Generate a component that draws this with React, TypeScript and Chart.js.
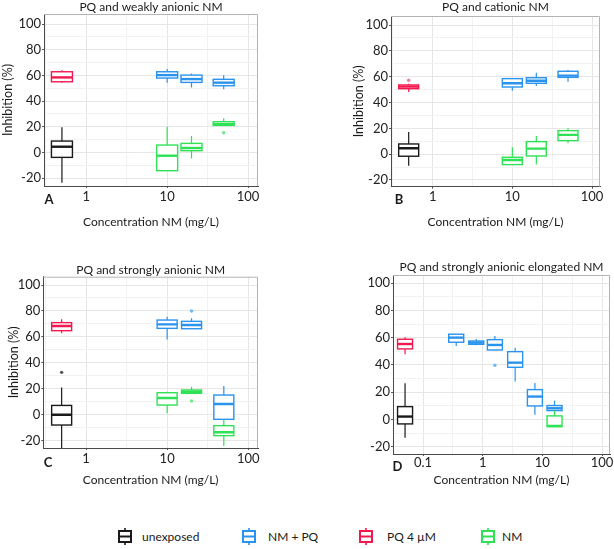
import React, { useEffect, useRef } from "react";
import { Chart, registerables } from "chart.js";

Chart.register(...registerables);

const FONT = "Lato, 'Noto Sans', sans-serif";

// ---------- data ----------
const SERIES = ["unexposed", "NM + PQ", "PQ 4 µM", "NM"];
const COLORS = ["#1a1a1a", "#2a93ee", "#f2194f", "#2fe255"];
const OUTLIER_COLORS = ["#555555", "#6fb8f2", "#f57a95", "#6fea88"];

const Y_MAJOR = [-20, 0, 20, 40, 60, 80, 100];
const Y_MINOR = [-10, 10, 30, 50, 70, 90];
const X_MAJOR_ABC = [1, 10, 100];
const X_MINOR_ABC = [0.316, 3.16, 31.6];
const X_MAJOR_D = [0.1, 1, 10, 100];
const X_MINOR_D = [0.0316, 0.316, 3.16, 31.6];

const X_TITLE = "Concentration NM (mg/L)";
const Y_TITLE = "Inhibition (%)";

// box stats: [min, q1, median, q3, max]
// Panel A
const A_TITLE = "PQ and weakly anionic NM";
const A_CTRL_X = [0.5];
const A_UNEXPOSED = [[-23.7, -3.9, 4.4, 8.8, 19.5]];
const A_PQ = [[54.3, 55.0, 58.4, 62.8, 63.9]];
const A_NMPQ_CONC = [10, 20, 50];
const A_NMPQ = [
  [54.3, 57.9, 60.2, 62.8, 64.9],
  [50.6, 54.5, 57.1, 60.2, 61.5],
  [49.1, 51.9, 54.3, 56.9, 60.0],
];
const A_NM_CONC = [10, 20, 50];
const A_NM = [
  [-14.5, -14.3, -2.6, 5.7, 20.0],
  [-4.7, 1.3, 3.4, 7.0, 12.7],
  [21.0, 21.0, 22.0, 23.9, 26.5],
];
const A_NM_OUT = [{ x: 50, y: 15.3 }];

// Panel B
const B_TITLE = "PQ and cationic NM";
const B_CTRL_X = [0.5];
const B_UNEXPOSED = [[-8.9, -1.6, 4.6, 7.9, 17.2]];
const B_PQ = [[48.2, 50.7, 52.3, 53.6, 54.5]];
const B_PQ_OUT = [{ x: 0.5, y: 57.2 }];
const B_NMPQ_CONC = [10, 20, 50];
const B_NMPQ = [
  [49.2, 52.0, 54.9, 58.5, 58.5],
  [52.8, 54.9, 56.9, 59.2, 63.1],
  [56.1, 59.5, 60.8, 64.2, 65.2],
];
const B_NM_CONC = [10, 20, 50];
const B_NM = [
  [-8.1, -8.1, -4.5, -2.4, 5.3],
  [-8.1, -1.4, 4.3, 9.7, 14.1],
  [8.4, 10.5, 14.9, 18.2, 20.0],
];

// Panel C
const C_TITLE = "PQ and strongly anionic NM";
const C_CTRL_X = [0.5];
const C_UNEXPOSED = [[-27.0, -7.9, 0.0, 7.2, 21.1]];
const C_UNEXPOSED_OUT = [{ x: 0.5, y: 32.7 }];
const C_PQ = [[62.8, 64.8, 68.4, 71.0, 73.6]];
const C_NMPQ_CONC = [10, 20, 50];
const C_NMPQ = [
  [58.1, 66.6, 69.7, 73.0, 75.6],
  [66.3, 66.3, 69.2, 72.0, 74.3],
  [-3.5, -3.5, 8.3, 15.2, 22.2],
];
const C_NMPQ_OUT = [{ x: 20, y: 80.0 }];
const C_NM_CONC = [10, 20, 50];
const C_NM = [
  [1.1, 7.5, 12.9, 17.0, 17.8],
  [16.5, 16.5, 17.8, 19.1, 21.6],
  [-24.0, -16.1, -13.5, -8.4, -3.5],
];
const C_NM_OUT = [{ x: 20, y: 10.6 }];

// Panel D
const D_TITLE = "PQ and strongly anionic elongated NM";
const D_CTRL_X = [0.05];
const D_UNEXPOSED = [[-13.4, -3.3, 2.1, 9.4, 26.6]];
const D_PQ = [[47.9, 51.8, 55.4, 58.9, 60.3]];
const D_NMPQ_CONC = [0.36, 0.78, 1.6, 3.5, 7.5, 16];
const D_NMPQ = [
  [54.0, 56.7, 60.1, 62.6, 62.6],
  [54.5, 55.2, 56.4, 57.6, 59.0],
  [51.0, 51.0, 54.7, 58.6, 61.3],
  [27.8, 38.3, 41.7, 49.8, 52.7],
  [3.5, 9.9, 16.8, 21.9, 26.8],
  [6.5, 6.5, 8.2, 10.2, 13.8],
];
const D_NMPQ_OUT = [{ x: 1.6, y: 39.8 }];
const D_NM_CONC = [16];
const D_NM = [[-5.3, -5.3, -4.8, 2.6, 6.5]];

// ---------- build ----------
type Pt = { x: number; y: number };
type PanelData = {
  ctrlX: number[];
  unexposed: number[][];
  unexposedOut?: Pt[];
  nmpqConc: number[];
  nmpq: number[][];
  nmpqOut?: Pt[];
  pq: number[][];
  pqOut?: Pt[];
  nmConc: number[];
  nm: number[][];
  nmOut?: Pt[];
};

function buildDatasets(p: PanelData) {
  const groups = [
    { xs: p.ctrlX, stats: p.unexposed, out: p.unexposedOut || [] },
    { xs: p.nmpqConc, stats: p.nmpq, out: p.nmpqOut || [] },
    { xs: p.ctrlX, stats: p.pq, out: p.pqOut || [] },
    { xs: p.nmConc, stats: p.nm, out: p.nmOut || [] },
  ];
  return groups.map((g, i) => ({
    label: SERIES[i],
    data: g.out,
    boxes: g.xs.map((x, j) => ({ x, s: g.stats[j] })),
    borderColor: COLORS[i],
    backgroundColor: OUTLIER_COLORS[i],
    pointRadius: 1.7,
    pointBorderWidth: 0,
    pointHoverRadius: 0,
  }));
}

const boxPlugin = {
  id: "boxplots",
  beforeDatasetsDraw(chart: any, _a: any, opts: any) {
    const { ctx, chartArea: ca, scales } = chart;
    const xs = scales.x;
    const ys = scales.y;
    const half = (opts.boxWidth || 20) / 2;
    ctx.save();
    ctx.beginPath();
    ctx.rect(ca.left, ca.top, ca.right - ca.left, ca.bottom - ca.top);
    ctx.clip();
    chart.data.datasets.forEach((ds: any) => {
      (ds.boxes || []).forEach((b: any) => {
        const cx = xs.getPixelForValue(b.x);
        const [mn, q1, md, q3, mx] = b.s.map((v: number) => ys.getPixelForValue(v));
        ctx.strokeStyle = ds.borderColor;
        ctx.lineWidth = 1.2;
        ctx.beginPath();
        ctx.moveTo(cx, mx);
        ctx.lineTo(cx, q3);
        ctx.moveTo(cx, q1);
        ctx.lineTo(cx, mn);
        ctx.stroke();
        ctx.fillStyle = "#ffffff";
        ctx.fillRect(cx - half, q3, half * 2, q1 - q3);
        ctx.lineWidth = 1.4;
        ctx.strokeRect(cx - half, q3, half * 2, q1 - q3);
        ctx.lineWidth = 2.4;
        ctx.beginPath();
        ctx.moveTo(cx - half, md);
        ctx.lineTo(cx + half, md);
        ctx.stroke();
      });
    });
    ctx.restore();
  },
};

const textPlugin = {
  id: "paneltext",
  afterDraw(chart: any, _a: any, opts: any) {
    const { ctx, chartArea: ca } = chart;
    ctx.save();
    // top / right frame
    ctx.strokeStyle = "#b4b4b4";
    ctx.lineWidth = 1;
    ctx.beginPath();
    ctx.moveTo(ca.left, ca.top + 0.5);
    ctx.lineTo(ca.right - 0.5, ca.top + 0.5);
    ctx.lineTo(ca.right - 0.5, ca.bottom);
    ctx.stroke();
    ctx.textAlign = "center";
    ctx.textBaseline = "middle";
    ctx.fillStyle = "#1a1a1a";
    ctx.font = `12px ${FONT}`;
    ctx.fillText(opts.title, (ca.left + ca.right) / 2, opts.titleY);
    ctx.font = `bold 13px ${FONT}`;
    ctx.fillText(opts.letter, opts.letterX, opts.letterY);
    ctx.restore();
  },
};

type Layout = {
  left: number;
  top: number;
  pad: { left: number; right: number; top: number; bottom: number };
  yWidth: number;
  xHeight: number;
  yTitle: boolean;
  yTitlePad: number;
  xTitlePad: number;
  xTickPad: number;
  titleY: number;
  letterX: number;
  letterY: number;
  xMin: number;
  xMax: number;
  yMin: number;
  yMax: number;
  boxWidth: number;
};

type PanelSpec = {
  title: string;
  letter: string;
  data: PanelData;
  xMajor: number[];
  xMinor: number[];
  layout: Layout;
};

const PANELS: PanelSpec[] = [
  {
    title: A_TITLE,
    letter: "A",
    data: {
      ctrlX: A_CTRL_X, unexposed: A_UNEXPOSED, pq: A_PQ,
      nmpqConc: A_NMPQ_CONC, nmpq: A_NMPQ, nmConc: A_NM_CONC, nm: A_NM, nmOut: A_NM_OUT,
    },
    xMajor: X_MAJOR_ABC,
    xMinor: X_MINOR_ABC,
    layout: {
      left: 0, top: 0, pad: { left: 0, right: 49, top: 14, bottom: 0 },
      yWidth: 44, xHeight: 59, yTitle: true, yTitlePad: 0.8, xTitlePad: 15.8, xTickPad: 2.5,
      titleY: 7, letterX: 49, letterY: 200,
      xMin: 0.303, xMax: 132.8, yMin: -26.2, yMax: 107.8, boxWidth: 21,
    },
  },
  {
    title: B_TITLE,
    letter: "B",
    data: {
      ctrlX: B_CTRL_X, unexposed: B_UNEXPOSED, pq: B_PQ, pqOut: B_PQ_OUT,
      nmpqConc: B_NMPQ_CONC, nmpq: B_NMPQ, nmConc: B_NM_CONC, nm: B_NM,
    },
    xMajor: X_MAJOR_ABC,
    xMinor: X_MINOR_ABC,
    layout: {
      left: 307, top: 0, pad: { left: 44, right: 14, top: 16, bottom: 0 },
      yWidth: 40, xHeight: 58.3, yTitle: true, yTitlePad: 0.5, xTitlePad: 15.8, xTickPad: 1.5,
      titleY: 7, letterX: 92, letterY: 200,
      xMin: 0.307, xMax: 126, yMin: -25.2, yMax: 107, boxWidth: 20,
    },
  },
  {
    title: C_TITLE,
    letter: "C",
    data: {
      ctrlX: C_CTRL_X, unexposed: C_UNEXPOSED, unexposedOut: C_UNEXPOSED_OUT, pq: C_PQ,
      nmpqConc: C_NMPQ_CONC, nmpq: C_NMPQ, nmpqOut: C_NMPQ_OUT,
      nmConc: C_NM_CONC, nm: C_NM, nmOut: C_NM_OUT,
    },
    xMajor: X_MAJOR_ABC,
    xMinor: X_MINOR_ABC,
    layout: {
      left: 0, top: 245, pad: { left: 0, right: 49, top: 31.7, bottom: 0 },
      yWidth: 43.3, xHeight: 42, yTitle: true, yTitlePad: 6.6, xTitlePad: 2.8, xTickPad: 2.5,
      titleY: 25, letterX: 48, letterY: 217.7,
      xMin: 0.297, xMax: 132, yMin: -25.6, yMax: 106.4, boxWidth: 20,
    },
  },
  {
    title: D_TITLE,
    letter: "D",
    data: {
      ctrlX: D_CTRL_X, unexposed: D_UNEXPOSED, pq: D_PQ,
      nmpqConc: D_NMPQ_CONC, nmpq: D_NMPQ, nmpqOut: D_NMPQ_OUT,
      nmConc: D_NM_CONC, nm: D_NM,
    },
    xMajor: X_MAJOR_D,
    xMinor: X_MINOR_D,
    layout: {
      left: 307, top: 245, pad: { left: 44, right: 4, top: 30, bottom: 0 },
      yWidth: 42, xHeight: 36, yTitle: false, yTitlePad: 0, xTitlePad: 2.8, xTickPad: 0,
      titleY: 22.3, letterX: 90.5, letterY: 221.7,
      xMin: 0.0314, xMax: 136, yMin: -25.4, yMax: 106.1, boxWidth: 15,
    },
  },
];

const W = 307;
const H = 245;

function Panel({ spec }: { spec: PanelSpec }) {
  const ref = useRef<HTMLCanvasElement | null>(null);
  useEffect(() => {
    if (!ref.current) return;
    const L = spec.layout;
    const yAll = [...Y_MINOR, ...Y_MAJOR].sort((a, b) => a - b);
    const xAll = [...spec.xMinor, ...spec.xMajor].sort((a, b) => a - b);
    const tickFont = { family: FONT, size: 13, lineHeight: 1 };
    const chart = new Chart(ref.current, {
      type: "scatter",
      data: { datasets: buildDatasets(spec.data) as any },
      plugins: [boxPlugin, textPlugin],
      options: {
        animation: false,
        responsive: false,
        events: [],
        layout: { padding: L.pad },
        plugins: {
          legend: { display: false },
          tooltip: { enabled: false },
          title: { display: false },
          boxplots: { boxWidth: L.boxWidth },
          paneltext: {
            title: spec.title,
            titleY: L.titleY,
            letter: spec.letter,
            letterX: L.letterX,
            letterY: L.letterY,
          },
        } as any,
        scales: {
          x: {
            type: "logarithmic",
            min: L.xMin,
            max: L.xMax,
            afterBuildTicks: (s: any) => {
              s.ticks = xAll.map((v) => ({ value: v }));
            },
            afterFit: (s: any) => {
              s.height = L.xHeight;
            },
            ticks: {
              autoSkip: false,
              maxRotation: 0,
              padding: L.xTickPad,
              font: tickFont,
              color: "#222",
              callback: (v: any) => (spec.xMajor.includes(Number(v)) ? String(v) : ""),
            },
            grid: {
              color: (c: any) => (spec.xMajor.includes(c.tick?.value) ? "#e6e6e6" : "#f2f2f2"),
              tickColor: (c: any) => (spec.xMajor.includes(c.tick?.value) ? "#555" : "rgba(0,0,0,0)"),
              tickLength: 2,
              lineWidth: 1,
            },
            border: { color: "#4a4a4a", width: 1 },
            title: {
              display: true,
              text: X_TITLE,
              font: { family: FONT, size: 12, lineHeight: 1.2 },
              color: "#1a1a1a",
              padding: { top: 0, bottom: L.xTitlePad },
            },
          },
          y: {
            type: "linear",
            min: L.yMin,
            max: L.yMax,
            afterBuildTicks: (s: any) => {
              s.ticks = yAll.map((v) => ({ value: v }));
            },
            afterFit: (s: any) => {
              s.width = L.yWidth;
            },
            ticks: {
              autoSkip: false,
              padding: 1,
              font: tickFont,
              color: "#222",
              callback: (v: any) => (Y_MAJOR.includes(Number(v)) ? String(v) : ""),
            },
            grid: {
              color: (c: any) => (Y_MAJOR.includes(c.tick?.value) ? "#e6e6e6" : "#f2f2f2"),
              tickColor: (c: any) => (Y_MAJOR.includes(c.tick?.value) ? "#555" : "rgba(0,0,0,0)"),
              tickLength: 2,
              lineWidth: 1,
            },
            border: { color: "#4a4a4a", width: 1 },
            title: {
              display: L.yTitle,
              text: Y_TITLE,
              font: { family: FONT, size: 12.5, lineHeight: 1.2 },
              color: "#1a1a1a",
              padding: { top: L.yTitlePad, bottom: 0 },
            },
          },
        },
      } as any,
    });
    return () => chart.destroy();
  }, [spec]);
  return (
    <canvas
      ref={ref}
      width={W}
      height={H}
      style={{ position: "absolute", left: spec.layout.left, top: spec.layout.top, width: W, height: H }}
    />
  );
}

const LEGEND_POS = [
  { icon: 125, text: 142 },
  { icon: 249, text: 268 },
  { icon: 366, text: 387 },
  { icon: 488, text: 502 },
];

function BoxIcon({ color }: { color: string }) {
  return (
    <svg width={14} height={17} viewBox="0 0 14 17" style={{ display: "block" }}>
      <line x1={7} y1={0} x2={7} y2={3} stroke={color} strokeWidth={1.6} />
      <line x1={7} y1={14} x2={7} y2={17} stroke={color} strokeWidth={1.6} />
      <rect x={1} y={3} width={12} height={11} fill="#fff" stroke={color} strokeWidth={2} />
      <line x1={1} y1={8.5} x2={13} y2={8.5} stroke={color} strokeWidth={2} />
    </svg>
  );
}

export default function App() {
  return (
    <div
      style={{
        position: "absolute",
        left: 0,
        top: 0,
        width: 614,
        height: 549,
        background: "#fff",
        overflow: "hidden",
      }}
    >
      {PANELS.map((p) => (
        <Panel key={p.letter} spec={p} />
      ))}
      {SERIES.map((s, i) => (
        <React.Fragment key={s}>
          <div style={{ position: "absolute", left: LEGEND_POS[i].icon - 7, top: 528 }}>
            <BoxIcon color={COLORS[i]} />
          </div>
          <div
            style={{
              position: "absolute",
              left: LEGEND_POS[i].text,
              top: 528,
              height: 17,
              lineHeight: "17px",
              fontFamily: FONT,
              fontSize: 12,
              color: "#1a1a1a",
              whiteSpace: "nowrap",
            }}
          >
            {s}
          </div>
        </React.Fragment>
      ))}
    </div>
  );
}
